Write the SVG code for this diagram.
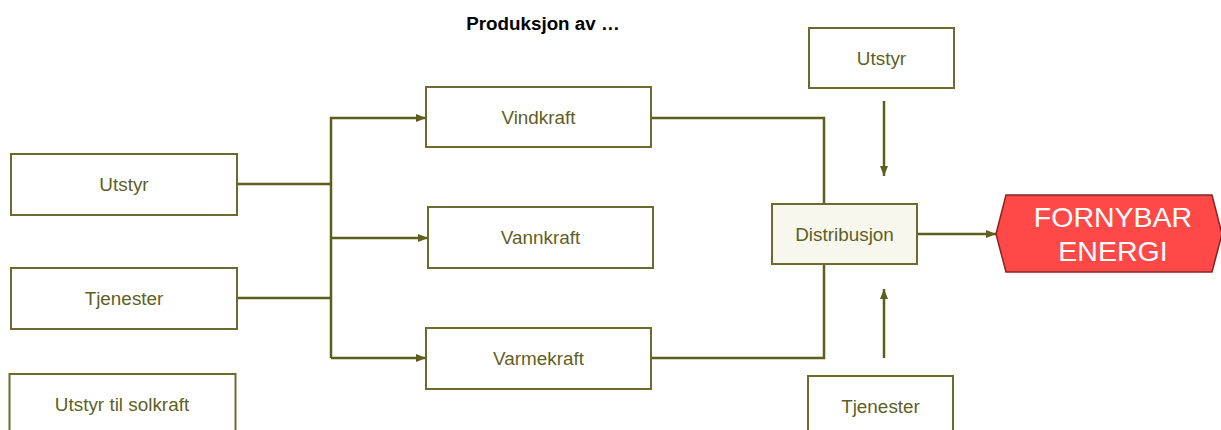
<svg xmlns="http://www.w3.org/2000/svg" width="1221" height="430" viewBox="0 0 1221 430">
  <style>
    .box { fill: #ffffff; stroke: #6b6b2e; stroke-width: 2; }
    .dist { fill: #f7f7ee; stroke: #6b6b2e; stroke-width: 2; }
    .lbl { font-family: "Liberation Sans", Arial, sans-serif; font-size: 18.9px; fill: #5f5f25; text-anchor: middle; }
    .title { font-family: "Liberation Sans", Arial, sans-serif; font-size: 18.8px; font-weight: bold; fill: #000000; text-anchor: middle; }
    .conn { fill: none; stroke: #5e5e1c; stroke-width: 2.5; }
    .big { font-family: "Liberation Sans", Arial, sans-serif; font-size: 28.5px; fill: #ffffff; text-anchor: middle; }
  </style>
  <defs>
    <marker id="arr" markerUnits="userSpaceOnUse" markerWidth="10" markerHeight="8" refX="10" refY="4" orient="auto">
      <path d="M0,0 L10,4 L0,8 z" fill="#5e5e1c"/>
    </marker>
  </defs>
  <rect width="1221" height="430" fill="#ffffff"/>
  <text class="title" x="543" y="30">Produksjon av …</text>

  <g id="connectors">
    <path class="conn" d="M237,184 H331"/>
    <path class="conn" d="M237,298 H331"/>
    <path class="conn" d="M331,358 V118 H426" marker-end="url(#arr)"/>
    <path class="conn" d="M331,238 H428" marker-end="url(#arr)"/>
    <path class="conn" d="M331,358 H426" marker-end="url(#arr)"/>
    <path class="conn" d="M651,118 H824 V204"/>
    <path class="conn" d="M651,358 H824 V264"/>
    <path class="conn" d="M917,234 H996" marker-end="url(#arr)"/>
    <path class="conn" d="M884,101 V176" marker-end="url(#arr)"/>
    <path class="conn" d="M884,358 V289" marker-end="url(#arr)"/>
  </g>

  <g id="utstyr-left">
    <rect class="box" x="11" y="154" width="226" height="61"/>
    <text class="lbl" x="124" y="191">Utstyr</text>
  </g>
  <g id="tjenester-left">
    <rect class="box" x="11" y="268" width="226" height="61"/>
    <text class="lbl" x="124" y="305">Tjenester</text>
  </g>
  <g id="utstyr-solkraft">
    <rect class="box" x="9.5" y="374" width="226" height="61"/>
    <text class="lbl" x="122" y="411">Utstyr til solkraft</text>
  </g>
  <g id="vindkraft">
    <rect class="box" x="426" y="87" width="225" height="60"/>
    <text class="lbl" x="538.5" y="124">Vindkraft</text>
  </g>
  <g id="vannkraft">
    <rect class="box" x="428" y="207" width="225" height="61"/>
    <text class="lbl" x="540.5" y="244">Vannkraft</text>
  </g>
  <g id="varmekraft">
    <rect class="box" x="426" y="328" width="225" height="61"/>
    <text class="lbl" x="538.5" y="365">Varmekraft</text>
  </g>
  <g id="distribusjon">
    <rect class="dist" x="772" y="204" width="145" height="60"/>
    <text class="lbl" x="844.5" y="241">Distribusjon</text>
  </g>
  <g id="utstyr-top">
    <rect class="box" x="809" y="28" width="145" height="60"/>
    <text class="lbl" x="881.5" y="65">Utstyr</text>
  </g>
  <g id="tjenester-bottom">
    <rect class="box" x="808" y="376" width="145" height="60"/>
    <text class="lbl" x="880.5" y="413">Tjenester</text>
  </g>
  <g id="fornybar-energi">
    <polygon points="996,234 1006,195 1212,195 1222,234 1212,272 1006,272" fill="#ff4848" stroke="#8b2222" stroke-width="1.5"/>
    <text class="big" x="1113" y="227">FORNYBAR</text>
    <text class="big" x="1113" y="261">ENERGI</text>
  </g>
</svg>
